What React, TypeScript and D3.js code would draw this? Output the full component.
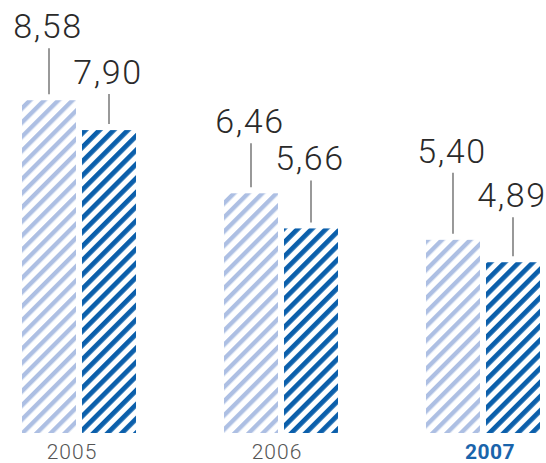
import React from "react";
import * as d3 from "d3";

const years = ["2005", "2006", "2007"];
const seriesA = [8.58, 6.46, 5.40];
const seriesB = [7.90, 5.66, 4.89];
const highlightYear = "2007";

// layout: how far each value label's baseline sits above its bar top [light, dark]
const LABEL_LIFT: number[][] = [
  [62, 46],
  [60, 58],
  [77, 55],
];
// layout: horizontal nudge of year labels
const TICK_SHIFT = [-7, -4, 7];

const W = 546;
const H = 463;
const BASE = 433;

export default function App() {
  const x = d3.scaleBand<string>().domain(years).range([22, 540]).paddingInner(0.4356).paddingOuter(0);
  const inner = d3.scaleBand<string>().domain(["a", "b"]).range([0, x.bandwidth()]).paddingInner(0.1).paddingOuter(0);
  const y = d3.scaleLinear().domain([1, 10]).range([BASE, BASE - 9 * 43.9]);
  const fmt = (v: number) => v.toFixed(2).replace(".", ",");
  const font = "Roboto, 'Liberation Sans', sans-serif";

  const bars: { key: string; v: number; xi: number; gi: number; s: number }[] = [];
  years.forEach((yr, i) => {
    bars.push({ key: yr + "a", v: seriesA[i], xi: (x(yr) as number) + (inner("a") as number), gi: i, s: 0 });
    bars.push({ key: yr + "b", v: seriesB[i], xi: (x(yr) as number) + (inner("b") as number), gi: i, s: 1 });
  });
  const bw = inner.bandwidth();

  return (
    <svg width={W} height={H} style={{ position: "absolute", left: 0, top: 0, background: "#fff" }}>
      <defs>
        <pattern id="hatchLight" patternUnits="userSpaceOnUse" width={10} height={10} patternTransform="rotate(45)">
          <rect x={0} y={0} width={4.4} height={10} fill="#adbfe3" />
        </pattern>
        <pattern id="hatchDark" patternUnits="userSpaceOnUse" width={10} height={10} patternTransform="rotate(45)">
          <rect x={0} y={0} width={4.8} height={10} fill="#0b5fab" />
        </pattern>
      </defs>
      {bars.map((b) => {
        const top = y(b.v);
        const cx = b.xi + bw / 2;
        const base = top - LABEL_LIFT[b.gi][b.s];
        return (
          <g key={b.key}>
            <rect x={b.xi} y={top} width={bw} height={BASE - top} fill={b.s === 0 ? "url(#hatchLight)" : "url(#hatchDark)"} />
            <line x1={cx} x2={cx} y1={base + 10} y2={top - 6} stroke="#555" strokeWidth={1.2} />
            <text x={cx - 1} y={base} textAnchor="middle" fontFamily={font} fontWeight={300} fontSize={34} letterSpacing={1.6} fill="#2a2a2a">
              {fmt(b.v)}
            </text>
          </g>
        );
      })}
      {years.map((yr, i) => {
        const hl = yr === highlightYear;
        return (
          <text
            key={yr}
            x={(x(yr) as number) + x.bandwidth() / 2 + TICK_SHIFT[i]}
            y={459}
            textAnchor="middle"
            fontFamily={font}
            fontWeight={hl ? 700 : 300}
            fontSize={21}
            letterSpacing={hl ? 0.5 : 1}
            fill={hl ? "#1a64ab" : "#555"}
          >
            {yr}
          </text>
        );
      })}
    </svg>
  );
}
